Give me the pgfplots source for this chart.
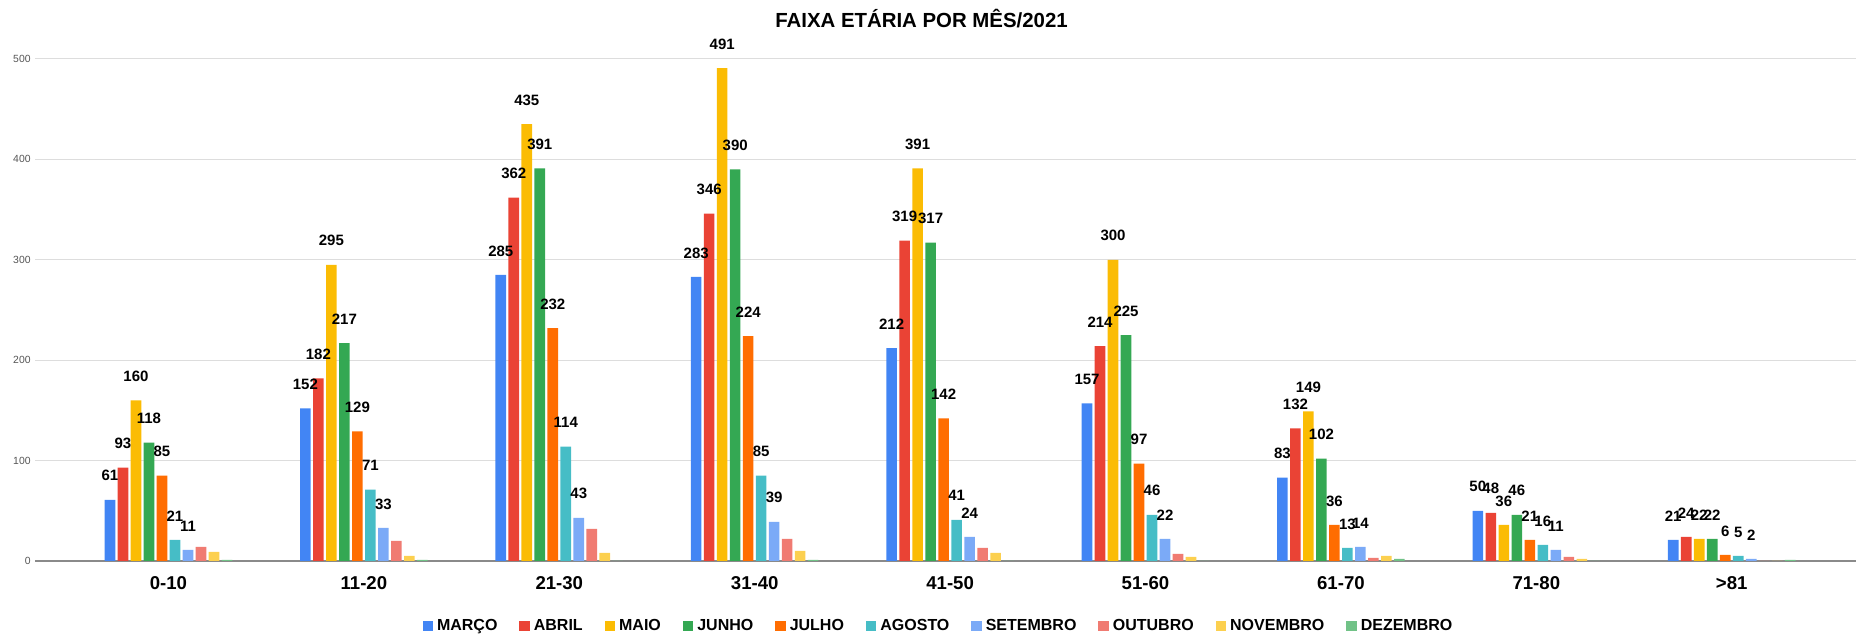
\documentclass[border=0pt]{standalone}
\usepackage{fontspec}
\setmainfont{Liberation Sans}
\usepackage{pgfplots}
\usepackage{pgfplotstable}
\pgfplotsset{compat=1.18}
\definecolor{cA}{HTML}{4285F4}
\definecolor{cB}{HTML}{EA4335}
\definecolor{cC}{HTML}{FBBC04}
\definecolor{cD}{HTML}{34A853}
\definecolor{cE}{HTML}{FF6D01}
\definecolor{cF}{HTML}{46BDC6}
\definecolor{cG}{HTML}{7BAAF7}
\definecolor{cH}{HTML}{F07B72}
\definecolor{cI}{HTML}{FCD04F}
\definecolor{cJ}{HTML}{71C287}
\definecolor{gridgray}{HTML}{DDDDDD}
\definecolor{axgray}{HTML}{8A8A8A}
\definecolor{ticktext}{HTML}{555555}
\pgfplotstableread{
g mar abr mai jun jul ago set out nov dez
0 61 93 160 118 85 21 11 14 9 1
1 152 182 295 217 129 71 33 20 5 1
2 285 362 435 391 232 114 43 32 8 0
3 283 346 491 390 224 85 39 22 10 1
4 212 319 391 317 142 41 24 13 8 0
5 157 214 300 225 97 46 22 7 4 0
6 83 132 149 102 36 13 14 3 5 2
7 50 48 36 46 21 16 11 4 2 0
8 21 24 22 22 6 5 2 0 0 1
}\datatable
\begin{document}
\begin{tikzpicture}
\useasboundingbox (-17.5pt,-37pt) rectangle (910.5pt,280.5pt);
\begin{axis}[
  at={(0pt,0pt)}, anchor=south west,
  scale only axis, width=910.5pt, height=251pt,
  xmin=-0.683, xmax=8.636, ymin=0, ymax=500,
  ytick={0,100,...,500},
  xtick={0,...,8},
  xticklabels={0-10,11-20,21-30,31-40,41-50,51-60,61-70,71-80,>81},
  major tick length=0pt,
  ymajorgrids,
  major grid style={draw=gridgray, line width=0.5pt},
  axis x line*=bottom, axis y line*=left,
  y axis line style={draw=none},
  x axis line style={draw=axgray, line width=0.7pt},
  /pgf/number format/assume math mode=true,
  yticklabel style={font=\fontsize{5.2}{6}\selectfont, text=ticktext, inner sep=0pt, anchor=east, xshift=-2pt},
  xticklabel style={font=\bfseries\fontsize{9.3}{11}\selectfont, inner sep=0pt, anchor=center, yshift=-11pt},
  title={FAIXA ETÁRIA POR MÊS/2021},
  title style={font=\bfseries\fontsize{10.2}{12}\selectfont, at={(0.5,1)}, anchor=center, yshift=14pt, xshift=-12pt},
  ybar=1.2pt, bar width=5.3pt,
  clip=false,
  every node near coord/.append style={font=\bfseries\fontsize{7.5}{9}\selectfont, anchor=center, inner sep=0pt, yshift=12pt},
  legend columns=10,
  legend style={at={(0.5,0)}, anchor=center, yshift=-32.5pt, xshift=-3pt, draw=none, fill=none,
    font=\bfseries\fontsize{8}{9.6}\selectfont,
    /tikz/every even column/.append style={column sep=9pt}},
  legend image code/.code={\draw[#1, draw=none] (0pt,-2.6pt) rectangle (5.2pt,2.6pt);},
]
\addplot[fill=cA, draw=none, nodes near coords] table[x=g, y=mar]{\datatable};
\addplot[fill=cB, draw=none, nodes near coords] table[x=g, y=abr]{\datatable};
\addplot[fill=cC, draw=none, nodes near coords] table[x=g, y=mai]{\datatable};
\addplot[fill=cD, draw=none, nodes near coords] table[x=g, y=jun]{\datatable};
\addplot[fill=cE, draw=none, nodes near coords] table[x=g, y=jul]{\datatable};
\addplot[fill=cF, draw=none, nodes near coords] table[x=g, y=ago]{\datatable};
\addplot[fill=cG, draw=none, nodes near coords] table[x=g, y=set]{\datatable};
\addplot[fill=cH, draw=none] table[x=g, y=out]{\datatable};
\addplot[fill=cI, draw=none] table[x=g, y=nov]{\datatable};
\addplot[fill=cJ, draw=none] table[x=g, y=dez]{\datatable};
\legend{MARÇO,ABRIL,MAIO,JUNHO,JULHO,AGOSTO,SETEMBRO,OUTUBRO,NOVEMBRO,DEZEMBRO}
\end{axis}
\end{tikzpicture}
\end{document}
